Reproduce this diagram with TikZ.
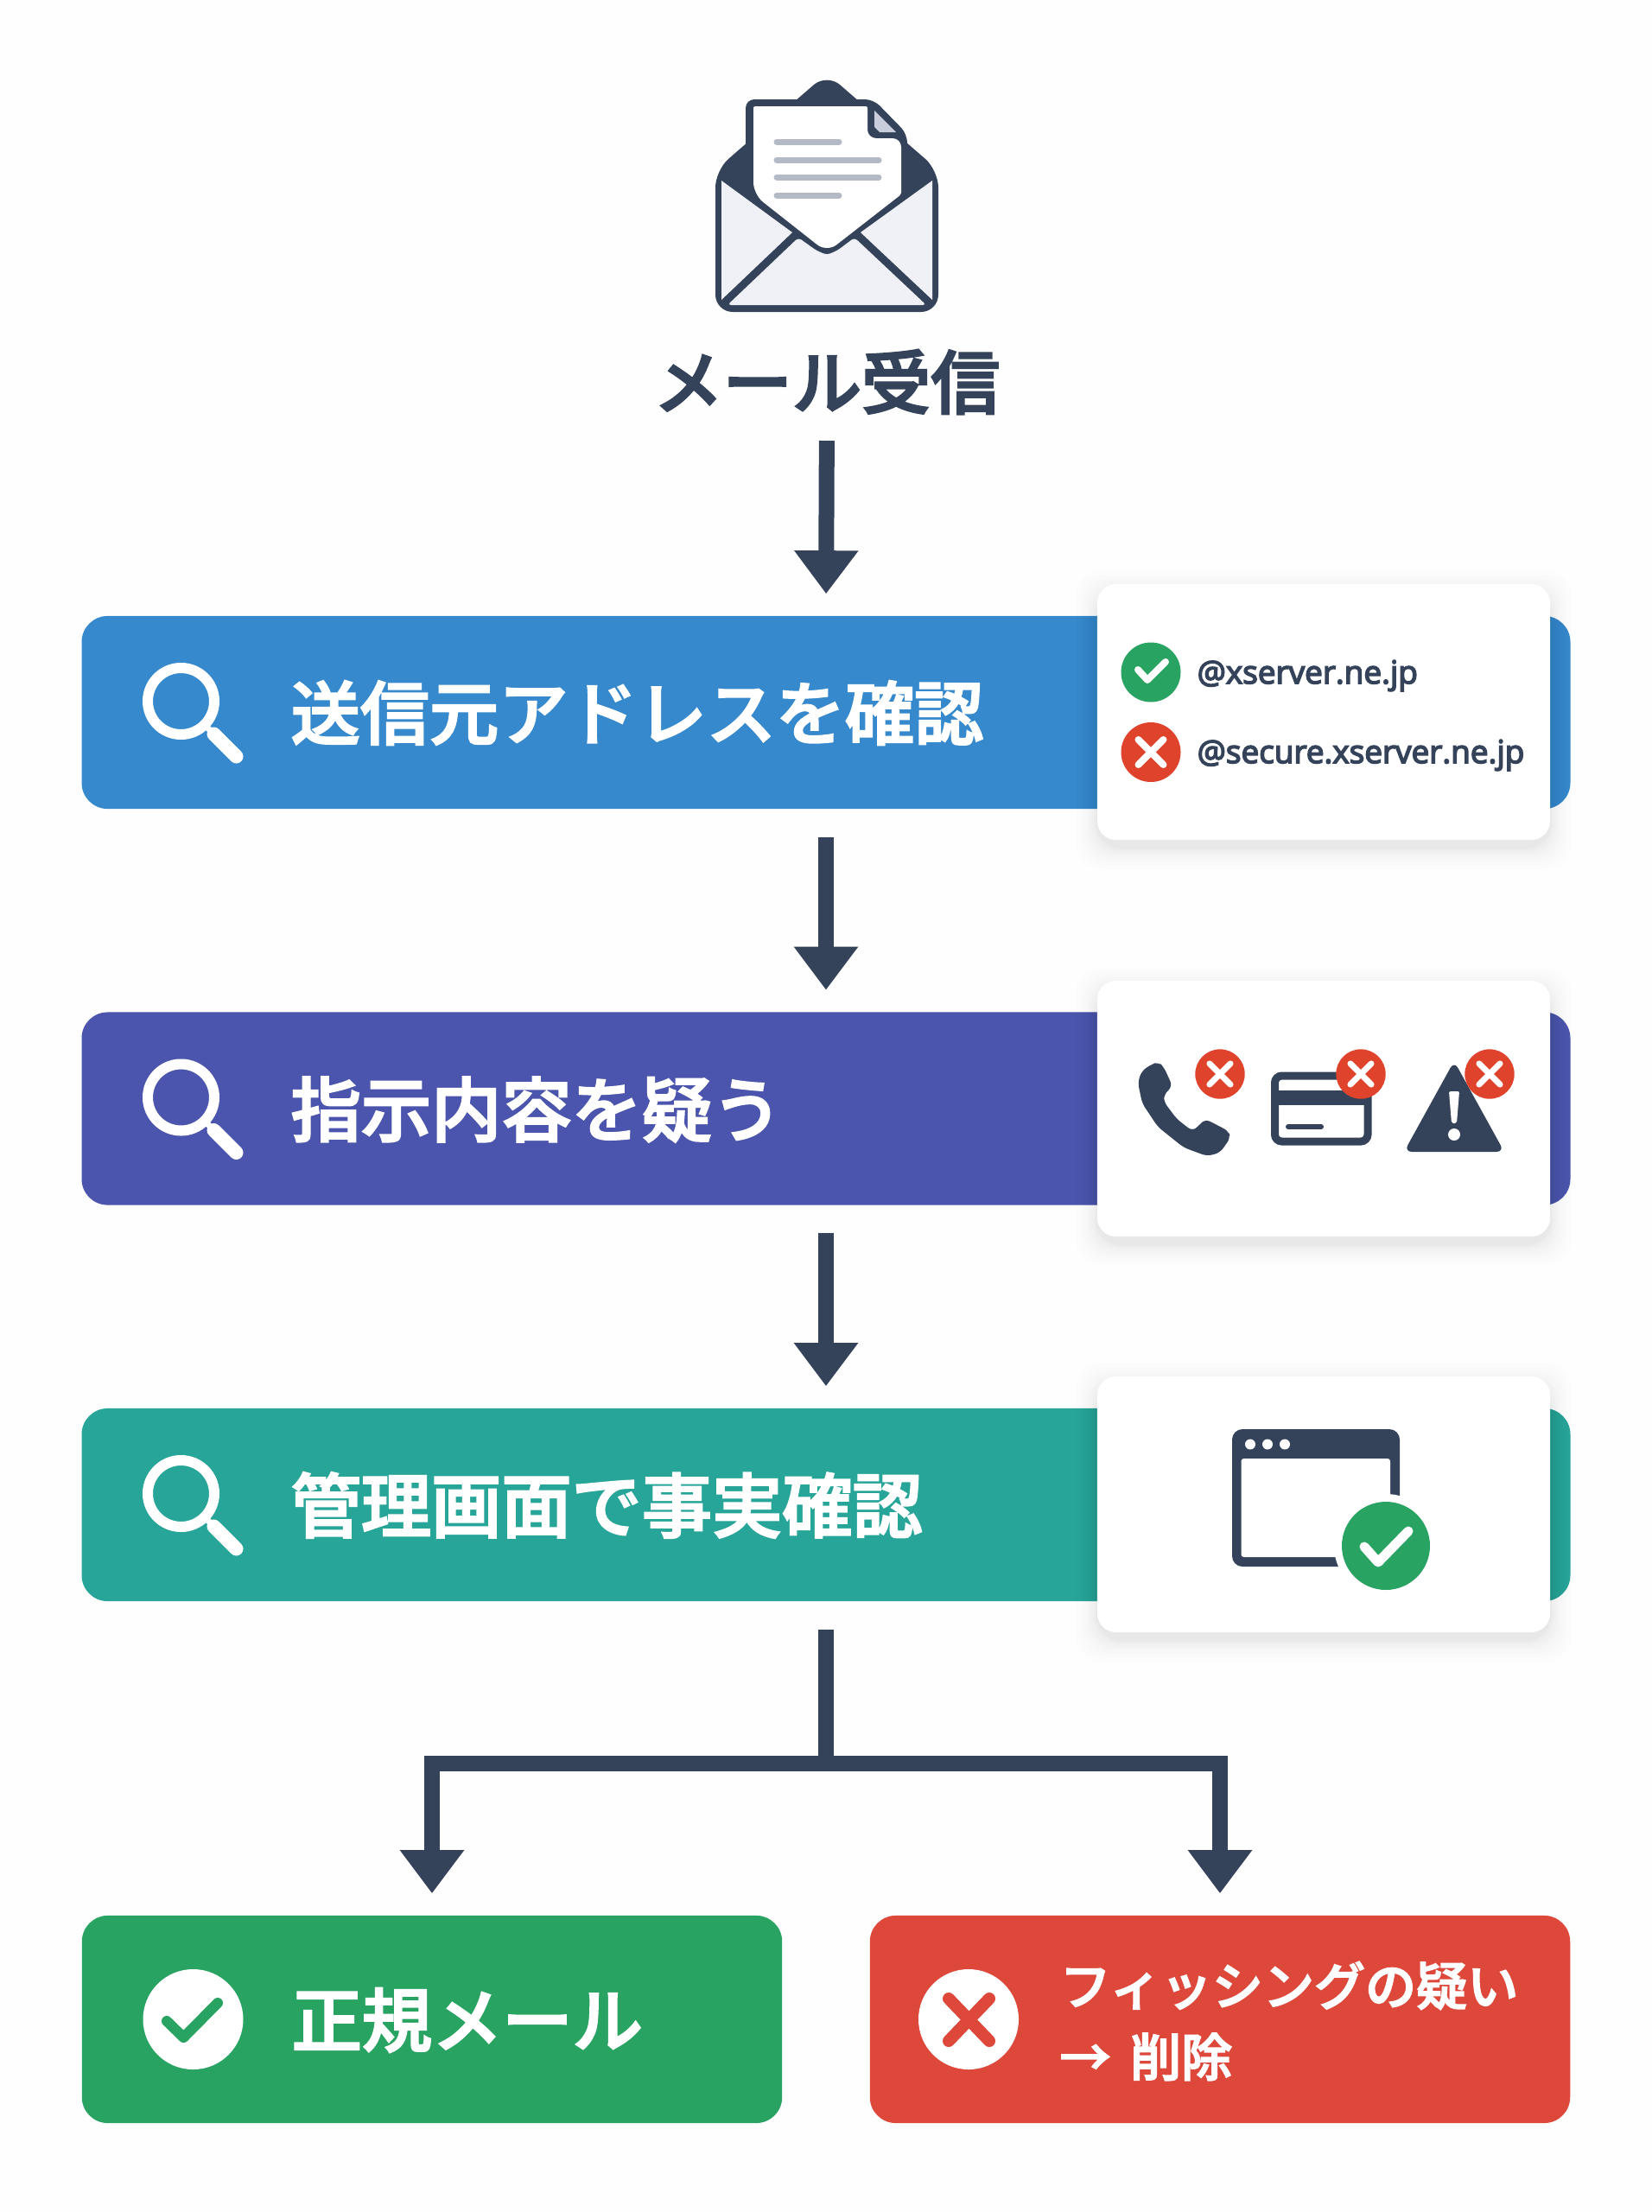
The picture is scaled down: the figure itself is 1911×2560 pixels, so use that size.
\documentclass[tikz,border=0pt]{standalone}
\usepackage{fontspec}
\setmainfont{Noto Sans CJK JP Medium}[FakeBold=2.8]
\newfontfamily\addrfont{Open Sans}[FakeBold=4.2]
\usepackage{tikz}
\usetikzlibrary{arrows.meta,positioning}

\definecolor{inkdark}{HTML}{34435A}
\definecolor{barblue}{HTML}{3589CC}
\definecolor{barindigo}{HTML}{4B55AD}
\definecolor{barteal}{HTML}{28A599}
\definecolor{okgreen}{HTML}{28A362}
\definecolor{badred}{HTML}{DE483A}
\definecolor{markred}{HTML}{E0432B}
\definecolor{papergrey}{HTML}{B4B9C6}
\definecolor{envlight}{HTML}{EFF1F6}
\definecolor{foldgrey}{HTML}{C8CEDB}
\definecolor{pagewhite}{HTML}{FEFEFE}

\tikzset{
  barbox/.style={rectangle, rounded corners=.3cm, minimum width=17.22cm, minimum height=2.23cm, inner sep=0pt},
  endbox/.style={rectangle, rounded corners=.3cm, minimum width=8.1cm, minimum height=2.4cm, inner sep=0pt},
  cardbox/.style={rectangle, fill=white, rounded corners=.22cm, minimum width=5.24cm, minimum height=2.96cm, inner sep=0pt},
  bartext/.style={anchor=west, inner sep=0pt, text=white, font=\fontsize{23.1}{24}\selectfont},
  smalltext/.style={anchor=west, inner sep=0pt, text=white, align=left, font=\fontsize{16.8}{23.4}\selectfont},
  addrtext/.style={anchor=west, inner sep=0pt, text=inkdark, font=\addrfont\fontsize{10.5}{12}\selectfont},
  flowline/.style={draw=inkdark, line width=.18cm},
  flowarrow/.style={flowline, -{Triangle[length=.5cm,width=.71cm]}, shorten <=.32cm, shorten >=.25cm},
  lens/.pic={
    \draw[white, line width=.12cm] (0,0) circle (38.5);
    \draw[white, line width=.07cm] (28,28) -- (38,38);
    \draw[white, line width=.16cm, line cap=round] (38,38) -- (64,64);
  }
}

\newcommand{\softcard}[2]{
  \foreach \g in {1,2,3,4,6,8,10,13,16,20,25}
    \fill[black, opacity=.009, rounded corners=.3cm] (1270-\g,#2-148-\g+9) rectangle (1794+\g,#2+148+\g+9);
  \node[cardbox] (#1) at (1532,#2) {};
}
\newcommand{\crossdot}[4]{
  \fill[markred] (#1,#2) circle (#3);
  \draw[white, line width=#4, line cap=round] (#1-.42*#3,#2-.42*#3) -- (#1+.42*#3,#2+.42*#3) (#1-.42*#3,#2+.42*#3) -- (#1+.42*#3,#2-.42*#3);
}

\begin{document}
\begin{tikzpicture}[x=.01cm, y=-.01cm]
  \useasboundingbox (0,0) rectangle (1911,2560);
  \fill[pagewhite] (0,0) rectangle (1911,2560);

  \fill[inkdark, rounded corners=.2cm] (828,361) -- (828,197) -- (957,85) -- (1086,197) -- (1086,361) -- cycle;
  \fill[inkdark, rounded corners=.1cm] (863,240) -- (863,115) -- (1011,115) -- (1050,155) -- (1050,240) -- cycle;
  \fill[envlight] (835,209) -- (917,269) -- (835,347) -- cycle;
  \fill[envlight] (1079,209) -- (996,269) -- (1079,347) -- cycle;
  \fill[envlight, rounded corners=.04cm] (842,353) -- (924,275) -- (945,290) -- (957,295) -- (969,290) -- (989,275) -- (1072,353) -- cycle;
  \fill[white, rounded corners=.02cm] (872,225) -- (872,123) -- (1004,123) [rounded corners=.1cm] -- (1004,160) -- (1043,160) [rounded corners=.02cm] -- (1043,225) [rounded corners=.14cm] -- (957,292) -- cycle;
  \fill[foldgrey] (1012,128) -- (1037,153) -- (1018,153) -- (1012,147) -- cycle;
  \foreach \ly/\lx in {164/971,185/1017,205/1017,226/971}
    \draw[papergrey, line width=.07cm, line cap=round] (899,\ly) -- (\lx,\ly);

  \node[inner sep=0pt, text=inkdark, font=\fontsize{22.8}{24}\selectfont] (title) at (957,442) {メール受信};

  \node[barbox, fill=barblue] (src) at (956,824.5) {};
  \node[barbox, fill=barindigo] (ask) at (956,1283) {};
  \node[barbox, fill=barteal] (vrf) at (956,1741.5) {};
  \node[endbox, fill=okgreen] (good) at (500,2337) {};
  \node[endbox, fill=badred] (bad) at (1412,2337) {};

  \coordinate (titlefoot) at (957,478);
  \coordinate (forkpt) at (956,2041);
  \draw[flowarrow] (titlefoot) -- (src.north);
  \draw[flowarrow] (src.south) -- (ask.north);
  \draw[flowarrow] (ask.south) -- (vrf.north);
  \draw[flowline, shorten <=.32cm] (vrf.south) -- (forkpt);
  \draw[flowarrow, shorten <=0pt] (forkpt) -| (good.north);
  \draw[flowarrow, shorten <=0pt] (forkpt) -| (bad.north);

  \foreach \ly in {811.5,1270,1728.5}
    \pic at (209.5,\ly) {lens};
  \node[bartext, font=\fontsize{22.8}{24}\selectfont] (srclabel) at (336,825) {送信元アドレスを確認};
  \node[bartext] (asklabel) at (336,1284) {指示内容を疑う};
  \node[bartext] (vrflabel) at (336,1742) {管理画面で事実確認};

  \softcard{srccard}{824}
  \softcard{askcard}{1283}
  \softcard{vrfcard}{1741}

  \fill[okgreen] (1332,778) circle (34.5);
  \draw[white, line width=.08cm, line cap=round, line join=round] (1317,775) -- (1328,787) -- (1349,766);
  \node[addrtext] (okaddr) at (1385,782) {@xserver.ne.jp};
  \crossdot{1332}{870.5}{34.5}{.08cm}
  \node[addrtext] (ngaddr) at (1385,874) {@secure.xserver.ne.jp};

  \fill[inkdark, rounded corners=.06cm] (1332,1232) -- (1341,1229) -- (1347,1235) -- (1357,1257) -- (1347,1267) -- (1347,1275) -- (1362,1295) -- (1380,1309) -- (1385,1305) -- (1395,1295) -- (1422,1309) -- (1424,1317) -- (1412,1334) -- (1397,1338) -- (1370,1328) -- (1340,1304) -- (1322,1277) -- (1317,1253) -- (1321,1240) -- cycle;
  \crossdot{1412}{1243}{28.7}{.07cm}
  \draw[inkdark, line width=.09cm, rounded corners=.08cm] (1475.5,1245) rectangle (1583,1321);
  \fill[inkdark] (1475,1261.5) rectangle (1583,1279);
  \draw[inkdark, line width=.06cm, line cap=round] (1491,1304) -- (1529,1304);
  \crossdot{1575}{1243}{28.7}{.07cm}
  \fill[inkdark, rounded corners=.09cm] (1683,1228) -- (1741,1333) -- (1625,1333) -- cycle;
  \fill[white, rounded corners=.02cm] (1677,1263) -- (1689,1263) -- (1686,1300) -- (1680,1300) -- cycle;
  \fill[white] (1683,1313) circle (7);
  \crossdot{1724}{1243}{28.7}{.07cm}

  \fill[inkdark, rounded corners=.12cm] (1426,1654) rectangle (1620,1813);
  \fill[white, rounded corners=.03cm] (1436.5,1688) -- (1609,1688) -- (1609,1802) -- (1436.5,1802) -- cycle;
  \foreach \dx in {1447,1467,1487}
    \fill[white] (\dx,1671.5) circle (6);
  \fill[white] (1604,1789) circle (60);
  \fill[okgreen] (1604,1789) circle (51);
  \draw[white, line width=.11cm, line cap=round, line join=round] (1579,1790) -- (1595,1808) -- (1630,1772);

  \fill[white] (223.5,2337) circle (58);
  \draw[okgreen, line width=.12cm, line cap=round, line join=round] (193,2339) -- (212.5,2358) -- (252,2318);
  \node[bartext] (goodlabel) at (337,2338) {正規メール};
  \fill[white] (1121,2337) circle (58);
  \draw[badred, line width=.14cm, line cap=round] (1098,2313) -- (1145,2362) (1098,2362) -- (1145,2313);
  \node[smalltext] (badlabel) at (1226,2339) {フィッシングの疑い\\→\hspace{2.6pt} 削除};
\end{tikzpicture}
\end{document}
